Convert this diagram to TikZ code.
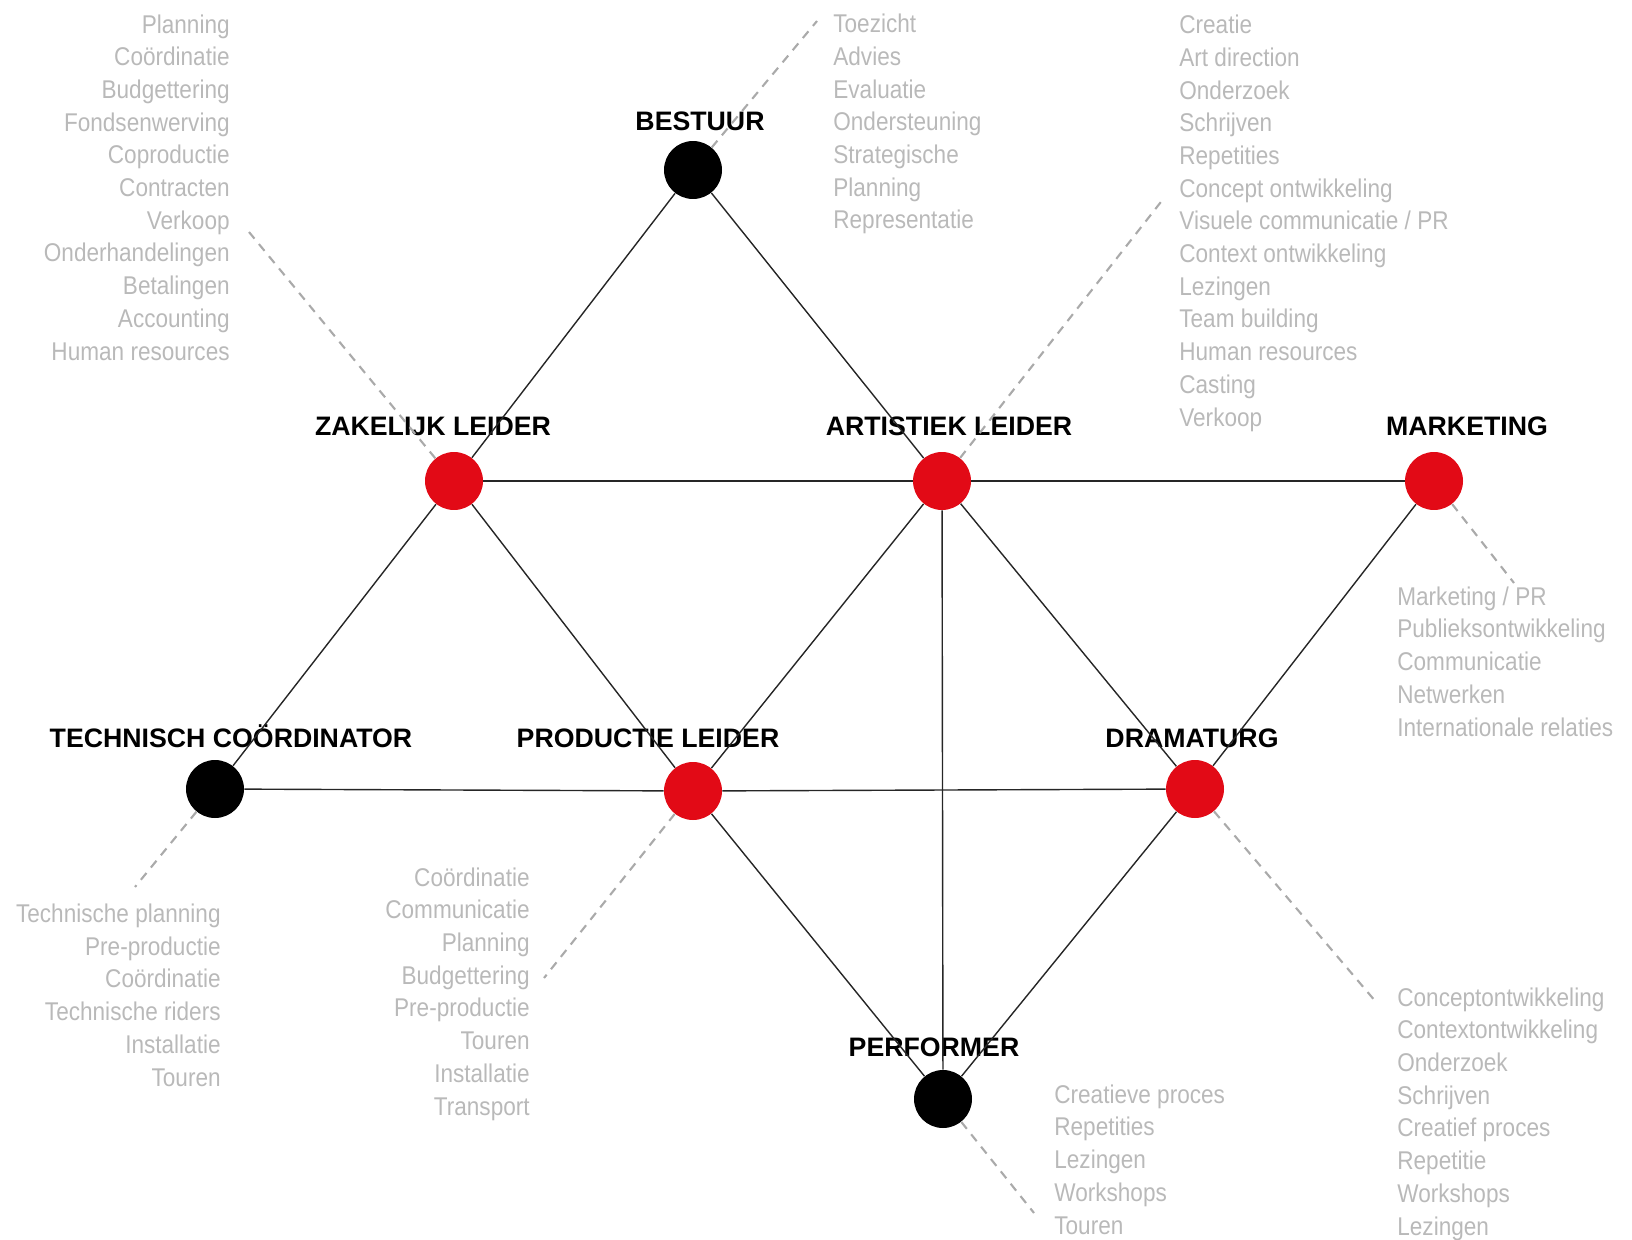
\documentclass[tikz,border=0pt]{standalone}
\usepackage{fontspec}
\setmainfont{Liberation Sans}
\newfontfamily\takenfont[FakeStretch=0.88]{Liberation Sans}
\usepackage{tikz}

\definecolor{rood}{RGB}{226,10,22}
\definecolor{lichtgrijs}{RGB}{185,185,185}
\definecolor{streepgrijs}{RGB}{170,170,170}

\begin{document}
\begin{tikzpicture}[x=0.02cm, y=-0.02cm,
		rol/.style={circle, inner sep=0pt, minimum size=1.16cm},
		titel/.style={font=\fontsize{15.2}{18}\selectfont\bfseries, inner sep=0pt, anchor=base},
		taken/.style={font=\takenfont\fontsize{14.6}{18.6}\selectfont, text=lichtgrijs, inner sep=0pt},
		lijn/.style={line width=0.8pt, black!85},
		taak/.style={line width=1.2pt, streepgrijs, dash pattern=on 5pt off 4pt}]
			\useasboundingbox (0, 0) rectangle (1632, 1240);
			
			\coordinate (B) at (693, 170);
			\coordinate (Z) at (454, 481);
			\coordinate (A) at (942, 481);
			\coordinate (M) at (1434, 481);
			\coordinate (T) at (215, 789);
			\coordinate (P) at (693, 791);
			\coordinate (D) at (1195, 789);
			\coordinate (F) at (943, 1099);
			
			\coordinate (bestuurend) at (817, 21);
			\coordinate (zakelijkend) at (249, 232);
			\coordinate (artistiekend) at (1164, 198);
			\coordinate (marketingend) at (1514, 583);
			\coordinate (technischend) at (135, 887);
			\coordinate (productieend) at (544, 978);
			\coordinate (dramaturgend) at (1376, 1002);
			\coordinate (performerend) at (1034, 1213);
			
			\node[rol, fill=black] (bestuur) at (B) {};
			\node[rol, fill=rood] (zakelijk) at (Z) {};
			\node[rol, fill=rood] (artistiek) at (A) {};
			\node[rol, fill=rood] (marketing) at (M) {};
			\node[rol, fill=black] (technisch) at (T) {};
			\node[rol, fill=rood] (productie) at (P) {};
			\node[rol, fill=rood] (dramaturg) at (D) {};
			\node[rol, fill=black] (performer) at (F) {};
			
			\node[titel] (bestuurlabel) at (700, 131) {BESTUUR};
			\node[titel] (zakelijklabel) at (433, 435) {ZAKELIJK LEIDER};
			\node[titel] (artistieklabel) at (949, 435) {ARTISTIEK LEIDER};
			\node[titel] (marketinglabel) at (1467, 435) {MARKETING};
			\node[titel] (technischlabel) at (231, 747) {TECHNISCH COÖRDINATOR};
			\node[titel] (productielabel) at (648, 747) {PRODUCTIE LEIDER};
			\node[titel] (dramaturglabel) at (1192, 747) {DRAMATURG};
			\node[titel] (performerlabel) at (934, 1056) {PERFORMER};
			
			% lijsten staan met de basislijn van hun laatste regel
			\node[taken, anchor=base east, align=right] (zakelijktaken) at (230, 360)
				{Planning\\Coördinatie\\Budgettering\\Fondsenwerving\\Coproductie\\Contracten\\Verkoop\\Onderhandelingen\\Betalingen\\Accounting\\Human resources};
			\node[taken, anchor=base west, align=left] (bestuurtaken) at (833, 229)
				{Toezicht\\Advies\\Evaluatie\\Ondersteuning\\Strategische\\Planning\\Representatie};
			\node[taken, anchor=base west, align=left] (artistiektaken) at (1179, 426)
				{Creatie\\Art direction\\Onderzoek\\Schrijven\\Repetities\\Concept ontwikkeling\\Visuele communicatie / PR\\Context ontwikkeling\\Lezingen\\Team building\\Human resources\\Casting\\Verkoop};
			\node[taken, anchor=base west, align=left] (marketingtaken) at (1397, 736)
				{Marketing / PR\\Publieksontwikkeling\\Communicatie\\Netwerken\\Internationale relaties};
			\node[taken, anchor=base east, align=right] (technischtaken) at (221, 1086)
				{Technische planning\\Pre-productie\\Coördinatie\\Technische riders\\Installatie\\Touren};
			\node[taken, anchor=base east, align=right] (productietaken) at (530, 1115)
				{Coördinatie\\Communicatie\\Planning\\Budgettering\\Pre-productie\\Touren\\Installatie\\Transport};
			\node[taken, anchor=base west, align=left] (dramaturgtaken) at (1397, 1235)
				{Conceptontwikkeling\\Contextontwikkeling\\Onderzoek\\Schrijven\\Creatief proces\\Repetitie\\Workshops\\Lezingen};
			\node[taken, anchor=base west, align=left] (performertaken) at (1054, 1234)
				{Creatieve proces\\Repetities\\Lezingen\\Workshops\\Touren};
			
			\draw[taak] (bestuur) -- (bestuurend);
			\draw[taak] (zakelijk) -- (zakelijkend);
			\draw[taak] (artistiek) -- (artistiekend);
			\draw[taak] (marketing) -- (marketingend);
			\draw[taak] (technisch) -- (technischend);
			\draw[taak] (productie) -- (productieend);
			\draw[taak] (dramaturg) -- (dramaturgend);
			\draw[taak] (performer) -- (performerend);
			
			\draw[lijn] (bestuur) -- (zakelijk);
			\draw[lijn] (bestuur) -- (artistiek);
			\draw[lijn] (zakelijk) -- (artistiek);
			\draw[lijn] (artistiek) -- (marketing);
			\draw[lijn] (zakelijk) -- (technisch);
			\draw[lijn] (zakelijk) -- (productie);
			\draw[lijn] (artistiek) -- (productie);
			\draw[lijn] (artistiek) -- (dramaturg);
			\draw[lijn] (artistiek) -- (performer);
			\draw[lijn] (marketing) -- (dramaturg);
			\draw[lijn] (technisch) -- (productie);
			\draw[lijn] (productie) -- (dramaturg);
			\draw[lijn] (productie) -- (performer);
			\draw[lijn] (dramaturg) -- (performer);
			
		\end{tikzpicture}
\end{document}
